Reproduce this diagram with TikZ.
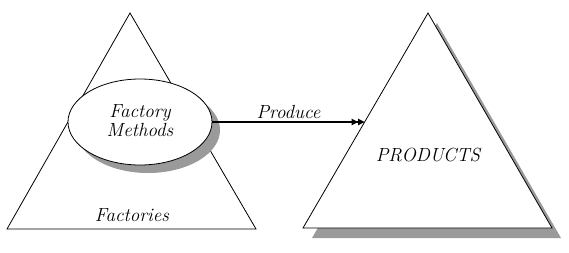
\documentclass[tikz,border=0pt]{standalone}
\usepackage{fontspec}
\usepackage{tikz}
\usetikzlibrary{arrows.meta,shapes.geometric,calc}
\definecolor{ShadeGray}{HTML}{9A9A9A}

\begin{document}
\begin{tikzpicture}[x=1pt,y=-1pt,>={Triangle[length=6.5pt,width=6.5pt]}]
  \tikzstyle{pyramid}=[draw=black,line width=0.8pt,fill=white,line join=miter]
  \tikzstyle{pshadow}=[fill=ShadeGray,draw=none]
  \tikzstyle{tag}=[font=\fontsize{19}{19}\selectfont\itshape,align=center,inner sep=0pt]
  \useasboundingbox (0,0) rectangle (569,252);
  % corners of the two triangles
  \coordinate (fTop) at (130,13);
  \coordinate (fLeft) at (7,229);
  \coordinate (fRight) at (256,229);
  \coordinate (pTop) at (428,13);
  \coordinate (pLeft) at (303,228);
  \coordinate (pRight) at (552,228);
  % factories
  \draw[pyramid] (fTop)--(fLeft)--(fRight)--cycle;
  \node[tag] (factories) at (132,215) {Factories};
  % products, with its shadow
  \fill[pshadow] ($(pTop)+(9,10)$)--($(pLeft)+(9,10)$)--($(pRight)+(9,10)$)--cycle;
  \draw[pyramid] (pTop)--(pLeft)--(pRight)--cycle;
  \node[tag] (products) at (428,155) {PRODUCTS};
  % factory methods
  \fill[pshadow] (148,130) ellipse [x radius=72,y radius=43];
  \node[draw=black,line width=0.8pt,fill=white,ellipse,minimum width=144pt,
    minimum height=86pt,inner sep=0pt] (fm) at (140,122) {};
  \node[tag] (fmtext) at (140,121) {Factory\\Methods};
  \coordinate (hit) at ($(pTop)!0.508!(pLeft)$);
  \draw[->>,line width=1.1pt] (fm.east)--(fm.east -| hit) node[midway,above=3pt,tag] (produce) {Produce};
\end{tikzpicture}
\end{document}
